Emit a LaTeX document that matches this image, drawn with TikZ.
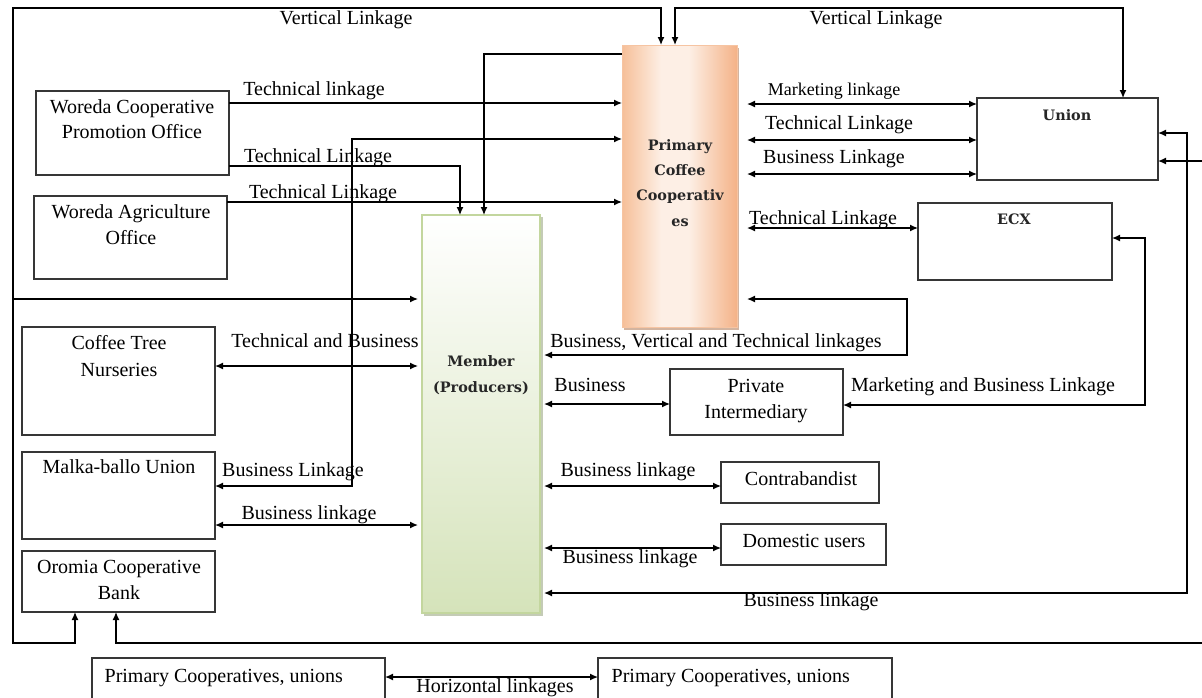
\documentclass[tikz,border=0pt]{standalone}
\usepackage{fontspec}
\setmainfont{Liberation Serif}
\newfontfamily\boxfont{DejaVu Serif}
\usetikzlibrary{arrows.meta}
\definecolor{frameline}{HTML}{363636}
\definecolor{peachA}{HTML}{F6BF98}
\definecolor{peachB}{HTML}{FDEFE5}
\definecolor{peachC}{HTML}{F4B287}
\definecolor{peachEdge}{HTML}{F6C4A2}
\definecolor{peachShade}{HTML}{D2B4A0}
\definecolor{leafBot}{HTML}{D5E3BA}
\definecolor{leafEdge}{HTML}{C3D69E}
\definecolor{leafShade}{HTML}{C4CBB6}
% orange - pale - orange band for the primary cooperatives box
\pgfdeclarehorizontalshading{peachband}{100bp}{color(0bp)=(peachA); color(25bp)=(peachA); color(42bp)=(peachB); color(54bp)=(peachB); color(75bp)=(peachC); color(100bp)=(peachC)}
\begin{document}
\begin{tikzpicture}[x=0.5pt,y=-0.5pt,
  >={Latex[length=4pt,width=3.5pt]},
  line width=0.65pt,
  box/.style={draw=frameline,line width=0.75pt,rectangle,anchor=north west,inner sep=0pt,outer sep=0pt},
  sz/.style 2 args={minimum width=#1*0.5pt,minimum height=#2*0.5pt},
  lab/.style={inner sep=0pt,font=\fontsize{10}{12}\selectfont,text height=6.8pt,text depth=2.2pt},
  smalllab/.style={inner sep=0pt,font=\fontsize{9}{11}\selectfont,text height=6.1pt,text depth=2pt},
  boxlab/.style={inner sep=0pt,font=\boxfont\bfseries\fontsize{7.2}{9}\selectfont,text height=5.5pt,text depth=1.7pt,text=black!85},
]
\path[use as bounding box] (0,0) rectangle (1202,697);
\clip (0,0) rectangle (1202,697);
\fill[white] (0,0) rectangle (1202,697);

% ---------- central boxes ----------
\fill[peachShade] (624,48) rectangle (739,330);
\node[box,sz={115}{282},draw=peachEdge,line width=0.5pt,shading=peachband] (pcc) at (622,45) {};
\fill[leafShade] (424,217) rectangle (543,616);
\node[box,sz={118}{398},draw=leafEdge,top color=white,bottom color=leafBot] (mem) at (422,215) {};

% ---------- other boxes ----------
\node[box,sz={193}{84}] (wcpo) at (36,91) {};
\node[box,sz={193}{83}] (wao) at (34,196) {};
\node[box,sz={181}{82}] (union) at (977,98) {};
\node[box,sz={194}{77}] (ecx) at (918,203) {};
\node[box,sz={193}{108}] (ctn) at (22,327) {};
\node[box,sz={193}{87}] (mbu) at (22,452) {};
\node[box,sz={193}{61}] (ocb) at (22,551) {};
\node[box,sz={173}{66}] (pri) at (670,369) {};
\node[box,sz={158}{41}] (con) at (721,462) {};
\node[box,sz={165}{41}] (dom) at (721,524) {};
\node[box,sz={293}{80}] (hz1) at (92,658) {};
\node[box,sz={294}{80}] (hz2) at (598,658) {};

% ---------- box texts ----------
\node[boxlab] (pcc-1) at (680,147) {Primary};
\node[boxlab] (pcc-2) at (680,172) {Coffee};
\node[boxlab] (pcc-3) at (680,197) {Cooperativ};
\node[boxlab] (pcc-4) at (680,223) {es};
\node[boxlab] (mem-1) at (481,363) {Member};
\node[boxlab] (mem-2) at (481,389) {(Producers)};
\node[boxlab] (union-t) at (1067,117) {Union};
\node[boxlab] (ecx-t) at (1014,221) {ECX};
\node[lab] (wcpo-1) at (132,109) {Woreda Cooperative};
\node[lab] (wcpo-2) at (132,134) {Promotion Office};
\node[lab] (wao-1) at (131,214) {Woreda Agriculture};
\node[lab] (wao-2) at (131,240) {Office};
\node[lab] (ctn-1) at (119,345) {Coffee Tree};
\node[lab] (ctn-2) at (119,372) {Nurseries};
\node[lab] (mbu-t) at (119,469) {Malka-ballo Union};
\node[lab] (ocb-1) at (119,569) {Oromia Cooperative};
\node[lab] (ocb-2) at (119,595) {Bank};
\node[lab] (pri-1) at (756,388) {Private};
\node[lab] (pri-2) at (756,414) {Intermediary};
\node[lab] (con-t) at (801,481) {Contrabandist};
\node[lab] (dom-t) at (804,543) {Domestic users};
\node[lab,anchor=west] (hz1-t) at (104,678) {Primary Cooperatives, unions};
\node[lab,anchor=west] (hz2-t) at (611,678) {Primary Cooperatives, unions};

% ---------- connectors, left side ----------
% outer frame: primary cooperatives to the bank and to the members
\draw[<->] (75,0 |- ocb.south) -- (75,643) -- (13,643) -- (13,8) -- (661,8) -- (661,0 |- pcc.north);
\coordinate (frameTap) at (13,299);
\draw[->,shorten >=2pt] (frameTap) -- (mem.west |- frameTap);
% vertical linkage primary <-> union
\draw[<->] (675,0 |- pcc.north) -- (675,8) -- (1123,8) -- (1123,0 |- union.north);
\draw[->] (wcpo.east |- 0,103) -- (pcc.west |- 0,103);
\draw[<->] (mbu.east |- 0,486) -- (352,486) -- (352,139) -- (pcc.west |- 0,139);
\draw[->] (wcpo.east |- 0,166) -- (460,166) -- (460,0 |- mem.north);
\draw[->] (wao.east |- 0,202) -- (pcc.west |- 0,202);
\draw[->] (pcc.west |- 0,54) -- (484,54) -- (484,0 |- mem.north);
\draw[<->,shorten >=2pt] (ctn.east |- 0,366) -- (mem.west |- 0,366);
\draw[<->,shorten >=2pt] (mbu.east |- 0,525) -- (mem.west |- 0,525);

% ---------- connectors, right side ----------
\draw[<->,shorten <=5pt] (pcc.east |- 0,104) -- (union.west |- 0,104);
\draw[<->,shorten <=5pt] (pcc.east |- 0,140) -- (union.west |- 0,140);
\draw[<->,shorten <=5pt] (pcc.east |- 0,174) -- (union.west |- 0,174);
\draw[<->,shorten <=5pt] (pcc.east |- 0,228) -- (ecx.west |- 0,228);
\draw[<->,shorten <=5pt,shorten >=2pt] (pcc.east |- 0,299) -- (907,299) -- (907,355) -- (mem.east |- 0,355);
\draw[<->,shorten <=2pt] (mem.east |- 0,404) -- (pri.west |- 0,404);
\draw[<->] (ecx.east |- 0,238) -- (1145,238) -- (1145,405) -- (pri.east |- 0,405);
\draw[<->,shorten <=2pt] (mem.east |- 0,486) -- (con.west |- 0,486);
\draw[<->,shorten <=2pt] (mem.east |- 0,548) -- (dom.west |- 0,548);
\draw[<->,shorten >=2pt] (union.east |- 0,133) -- (1187,133) -- (1187,593) -- (mem.east |- 0,593);
\coordinate (offR) at (1215,161);
\draw[->] (offR) -- (union.east |- offR);
\coordinate (offB) at (1215,643);
\draw[->] (offB) -- (116,643) -- (116,0 |- ocb.south);
\draw[<->] (hz1.east |- 0,677) -- (hz2.west |- 0,677);

% ---------- connector labels ----------
\node[lab] (l-vl1) at (346,20) {Vertical Linkage};
\node[lab] (l-vl2) at (876,20) {Vertical Linkage};
\node[lab] (l-tl1) at (314,91) {Technical linkage};
\node[lab] (l-tl2) at (318,158) {Technical Linkage};
\node[lab] (l-tl3) at (323,194) {Technical Linkage};
\node[smalllab] (l-ml) at (834,91) {Marketing linkage};
\node[lab] (l-tl4) at (839,125) {Technical Linkage};
\node[lab] (l-bl1) at (834,159) {Business Linkage};
\node[lab] (l-tl5) at (823,220) {Technical Linkage};
\node[lab] (l-tb) at (325,343) {Technical and Business};
\node[lab] (l-bvt) at (716,343) {Business, Vertical and Technical linkages};
\node[lab] (l-b) at (590,387) {Business};
\node[lab] (l-mbl) at (983,387) {Marketing and Business Linkage};
\node[lab] (l-bl2) at (293,472) {Business Linkage};
\node[lab] (l-bl3) at (628,472) {Business linkage};
\node[lab] (l-bl4) at (309,515) {Business linkage};
\node[lab] (l-bl5) at (630,559) {Business linkage};
\node[lab] (l-bl6) at (811,602) {Business linkage};
\node[lab] (l-hz) at (495,688) {Horizontal linkages};
\end{tikzpicture}
\end{document}
